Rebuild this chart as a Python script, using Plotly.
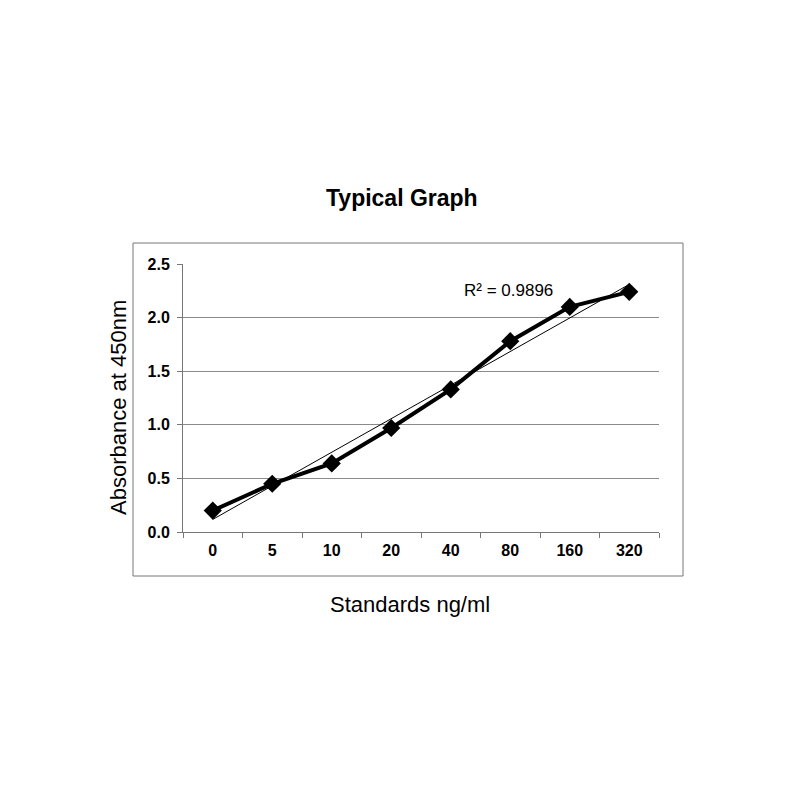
import numpy as np
import plotly.graph_objects as go

categories = ["0", "5", "10", "20", "40", "80", "160", "320"]
absorbance = [0.20, 0.45, 0.64, 0.97, 1.33, 1.78, 2.10, 2.24]
r2_label = "R² = 0.9896"
title_text = "<b>Typical Graph</b>"
x_title = "Standards ng/ml"
y_title = "Absorbance at 450nm"

idx = np.arange(1, len(absorbance) + 1)
slope, intercept = np.polyfit(idx, absorbance, 1)
trend = list(slope * idx + intercept)

FONT = "Liberation Sans, Arial, sans-serif"
OFF = 8  # page body margin

fig = go.Figure()
fig.add_trace(go.Scatter(
    x=categories, y=trend, mode="lines",
    line=dict(color="black", width=1), showlegend=False, hoverinfo="skip"))
fig.add_trace(go.Scatter(
    x=categories, y=absorbance, mode="lines+markers",
    line=dict(color="black", width=4),
    marker=dict(symbol="diamond", size=14, color="black"),
    showlegend=False))

L, R, T, B = 183, 659, 264, 532
W, H = R - L, B - T

def px(x):
    return (x - L) / W

def py(y):
    return (B - y) / H

fig.update_layout(
    width=800, height=800,
    margin=dict(l=L - OFF, r=800 - R + OFF, t=T - OFF, b=800 - B + OFF, pad=0),
    paper_bgcolor="white", plot_bgcolor="white",
    font=dict(family=FONT, color="black"),
    xaxis=dict(
        type="category", range=[-0.5, 7.5], tickson="boundaries",
        ticks="outside", ticklen=5, tickcolor="#777777",
        showline=True, linecolor="#777777", linewidth=1,
        showgrid=False, tickfont=dict(size=16, family=FONT, weight="bold"),
        ticklabelstandoff=4, fixedrange=True),
    yaxis=dict(
        range=[0, 2.5], dtick=0.5, tickformat=".1f",
        ticks="outside", ticklen=5, tickcolor="#777777",
        showline=True, linecolor="#777777", linewidth=1,
        showgrid=True, gridcolor="#8a8a8a", gridwidth=1,
        zeroline=False, tickfont=dict(size=16, family=FONT, weight="bold"),
        ticklabelstandoff=4, fixedrange=True),
    shapes=[dict(
        type="rect", xref="paper", yref="paper",
        x0=px(133), x1=px(683), y0=py(576), y1=py(243),
        line=dict(color="#777777", width=1), layer="below")],
    annotations=[
        dict(text=title_text, xref="paper", yref="paper",
             x=px(401.5), y=py(198), showarrow=False,
             font=dict(size=23, family=FONT), xanchor="center", yanchor="middle"),
        dict(text=x_title, xref="paper", yref="paper",
             x=px(410), y=py(604), showarrow=False,
             font=dict(size=22, family=FONT), xanchor="center", yanchor="middle"),
        dict(text=y_title, xref="paper", yref="paper",
             x=px(118), y=py(408), showarrow=False, textangle=-90,
             font=dict(size=22, family=FONT), xanchor="center", yanchor="middle"),
        dict(text=r2_label, xref="paper", yref="paper",
             x=px(508), y=py(290), showarrow=False,
             font=dict(size=17, family=FONT), xanchor="center", yanchor="middle"),
    ],
)

fig.write_html("out.html")
